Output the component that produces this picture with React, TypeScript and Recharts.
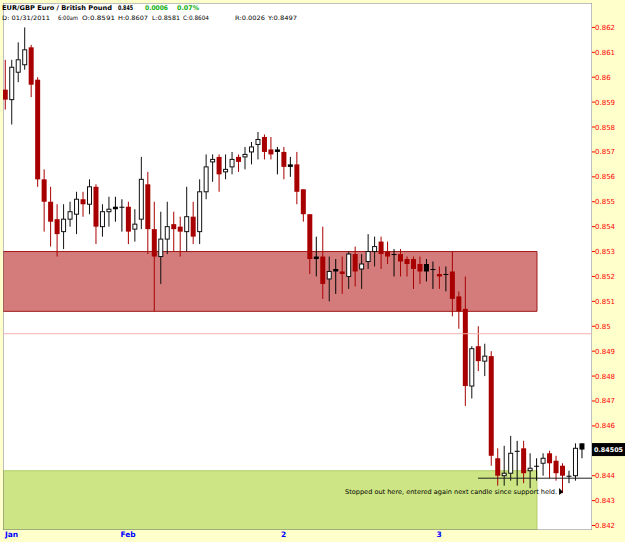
import React from 'react';
import {
  ComposedChart,
  Bar,
  XAxis,
  YAxis,
  CartesianGrid,
  ReferenceArea,
  ReferenceLine,
  ReferenceDot,
} from 'recharts';

// Hourly EUR/GBP candles, Jan 31 05:00 -> Feb 3 22:00
const opens = [
  0.8595, 0.8591, 0.8602, 0.8605, 0.8612, 0.8599, 0.8559, 0.855, 0.8543, 0.8538,
  0.8543, 0.8545, 0.8551, 0.8549, 0.8556, 0.854, 0.8546, 0.8548, 0.8548, 0.8548,
  0.8539, 0.8543, 0.8557, 0.8539, 0.8528, 0.8535, 0.8541, 0.854, 0.8538, 0.8544,
  0.8538, 0.8554, 0.8566, 0.8568, 0.8562, 0.8564, 0.8568, 0.8568, 0.857, 0.8573,
  0.8576, 0.8571, 0.8571, 0.857, 0.8565, 0.8565, 0.8555, 0.8545, 0.8528, 0.8528,
  0.8519, 0.8523, 0.8522, 0.852, 0.8529, 0.8523, 0.8526, 0.853, 0.8534, 0.853,
  0.8529, 0.8529, 0.8527, 0.8527, 0.8525, 0.8525, 0.8523, 0.8521, 0.8521, 0.8522,
  0.8512, 0.8507, 0.8476, 0.8492, 0.8486, 0.8488, 0.8447, 0.844, 0.8441, 0.845,
  0.8451, 0.8442, 0.8444, 0.8445, 0.8449, 0.8446, 0.8444, 0.844, 0.844, 0.8453,
];
const highs = [
  0.8607, 0.8607, 0.8614, 0.862, 0.8613, 0.86, 0.8563, 0.8556, 0.8549, 0.8549,
  0.855, 0.8554, 0.8554, 0.8559, 0.8557, 0.8549, 0.8552, 0.8552, 0.8551, 0.855,
  0.8547, 0.8568, 0.8562, 0.855, 0.8546, 0.855, 0.8546, 0.8544, 0.8556, 0.855,
  0.8559, 0.8569, 0.8569, 0.8569, 0.8569, 0.857, 0.8569, 0.8572, 0.8574, 0.8578,
  0.8577, 0.8576, 0.8572, 0.8572, 0.8568, 0.857, 0.8555, 0.8545, 0.8536, 0.854,
  0.8528, 0.8527, 0.8528, 0.853, 0.8532, 0.8529, 0.8537, 0.8536, 0.8536, 0.8534,
  0.8531, 0.8531, 0.8528, 0.8528, 0.8528, 0.8527, 0.8526, 0.8524, 0.8524, 0.853,
  0.8514, 0.852, 0.8492, 0.85, 0.8493, 0.849, 0.8451, 0.8452, 0.8456, 0.8454,
  0.8454, 0.8449, 0.8447, 0.8449, 0.845, 0.8448, 0.8445, 0.8442, 0.8453, 0.8453,
];
const lows = [
  0.8587, 0.8581, 0.8598, 0.8603, 0.8592, 0.8556, 0.8538, 0.8532, 0.8528, 0.8531,
  0.854, 0.8537, 0.8544, 0.8545, 0.8533, 0.8536, 0.854, 0.8542, 0.8538, 0.8533,
  0.8534, 0.8539, 0.8529, 0.8506, 0.8517, 0.8529, 0.853, 0.8528, 0.853, 0.8533,
  0.8533, 0.8551, 0.8558, 0.8554, 0.8559, 0.8561, 0.8562, 0.8563, 0.8565, 0.8567,
  0.8567, 0.8567, 0.8561, 0.8559, 0.856, 0.8549, 0.8542, 0.8521, 0.852, 0.8511,
  0.851, 0.8513, 0.8513, 0.8515, 0.8516, 0.8515, 0.8523, 0.8524, 0.8523, 0.8525,
  0.852, 0.852, 0.852, 0.8515, 0.8517, 0.8518, 0.8515, 0.8515, 0.8514, 0.8504,
  0.8499, 0.8468, 0.8471, 0.8482, 0.848, 0.8444, 0.8436, 0.8436, 0.8438, 0.8436,
  0.8437, 0.8435, 0.8438, 0.844, 0.8439, 0.8438, 0.8433, 0.8437, 0.8438, 0.8447,
];
const closes = [
  0.8591, 0.8604, 0.8607, 0.8611, 0.8597, 0.8559, 0.855, 0.8542, 0.8537, 0.8543,
  0.8546, 0.8551, 0.8549, 0.8556, 0.854, 0.8546, 0.8547, 0.8547, 0.8548, 0.8538,
  0.8541, 0.8559, 0.8539, 0.8528, 0.8535, 0.854, 0.8539, 0.8538, 0.8544, 0.8536,
  0.8554, 0.8564, 0.8567, 0.8561, 0.8563, 0.8567, 0.8566, 0.8569, 0.8572, 0.8575,
  0.857, 0.8569, 0.857, 0.8564, 0.8564, 0.8554, 0.8545, 0.8527, 0.8527, 0.8517,
  0.8522, 0.8522, 0.8521, 0.8529, 0.8522, 0.8525, 0.853, 0.8532, 0.8529, 0.8528,
  0.8529, 0.8526, 0.8525, 0.8523, 0.8522, 0.8522, 0.8523, 0.852, 0.8521, 0.8511,
  0.8506, 0.8476, 0.8491, 0.8486, 0.8488, 0.8448, 0.844, 0.8441, 0.8449, 0.845,
  0.8441, 0.8443, 0.8444, 0.8447, 0.8445, 0.8441, 0.844, 0.844, 0.8451, 0.84505,
];
// candles drawn in black in the source chart
const blackCandles = [17, 18, 42, 44, 48, 51, 60, 65, 66, 68, 79, 82, 87, 89];

const dayTickIndex = [0, 19, 43, 67];
const dayTickLabels = ['Jan', 'Feb', '2', '3'];
const priceTicks = [
  0.842, 0.843, 0.844, 0.845, 0.846, 0.847, 0.848, 0.849, 0.85, 0.851, 0.852,
  0.853, 0.854, 0.855, 0.856, 0.857, 0.858, 0.859, 0.86, 0.861, 0.862,
];

const supplyZone = [0.8506, 0.853];
const demandZoneTop = 0.8442;
const zoneEndIndex = 82.1;
const supportStartIndex = 73;
const supportLevel = 0.8439;
const cursorPrice = 0.8497;
const annotationPoint = [85.2, 0.84335];
const annotationText = 'Stopped out here, entered again next candle since support held.';

// header readouts
const symbolTitle = 'EUR/GBP Euro / British Pound';
const changeAbs = '0.0006';
const changePct = '0.07%';
const cursorDate = 'D: 01/31/2011';
const cursorTime = '6:00am';
const cursorCandle = 1;
const cursorRange = '0.0026';

const xDomain = [-0.309, 90.59];
const yDomain = [0.84182, 0.86298];

const lastClose = closes[closes.length - 1];
const shownTicks = priceTicks.filter((t) => Math.abs(t - lastClose) > 0.0003);

const data = opens.map((o, i) => ({
  i,
  open: o,
  high: highs[i],
  low: lows[i],
  close: closes[i],
  range: [lows[i], highs[i]],
  black: blackCandles.includes(i),
}));

const RED = '#A80000';
const FONT = 'DejaVu Sans';

const Candle = (props: any) => {
  const { x, y, width, height, payload } = props;
  if (!payload) return null;
  const top = Math.min(y, y + height);
  const bot = Math.max(y, y + height);
  const { open, close, high, low, black } = payload;
  const span = high - low;
  const k = span > 0 ? (bot - top) / span : 0;
  const yv = (v: number) => top + (high - v) * k;
  const cx = x + width / 2;
  const up = close > open;
  const bodyTop = yv(Math.max(open, close));
  const bodyBot = yv(Math.min(open, close));
  const bh = Math.max(bodyBot - bodyTop, 1);
  if (black) {
    return (
      <g>
        <line x1={cx} x2={cx} y1={top} y2={bot} stroke="#000" strokeWidth={1} />
        <rect x={cx - 2.5} y={bodyTop} width={5} height={bh} fill="#000" />
      </g>
    );
  }
  if (up) {
    return (
      <g>
        <line x1={cx} x2={cx} y1={top} y2={bot} stroke="#111" strokeWidth={1} />
        <rect x={cx - 2} y={bodyTop} width={4} height={bh} fill="#fff" stroke="#111" strokeWidth={1} />
      </g>
    );
  }
  return (
    <g>
      <line x1={cx} x2={cx} y1={top} y2={bot} stroke={RED} strokeWidth={1} />
      <rect x={cx - 2.5} y={bodyTop} width={5} height={bh} fill={RED} />
    </g>
  );
};

const DayTick = (props: any) => {
  const { x, y, payload } = props;
  const idx = dayTickIndex.indexOf(payload.value);
  const label = idx >= 0 ? dayTickLabels[idx] : '';
  return (
    <text
      x={x}
      y={y}
      dy="0.71em"
      textAnchor={payload.value === dayTickIndex[0] ? 'start' : 'middle'}
      fill="#0000FF"
      fontSize={7.5}
      fontWeight="bold"
      fontFamily={FONT}
    >
      {label}
    </text>
  );
};

const PriceTag = (props: any) => {
  const vb = props.viewBox || {};
  const xr = (vb.x || 0) + (vb.width || 0);
  const yy = vb.y || 0;
  return (
    <g>
      <rect x={xr} y={yy - 6.5} width={33} height={13} fill="#000" />
      <text x={xr + 2} y={yy} dy="0.35em" fill="#fff" fontSize={6.5} fontWeight="bold" fontFamily={FONT} textLength={29} lengthAdjust="spacingAndGlyphs">
        {String(lastClose)}
      </text>
    </g>
  );
};

const Annotation = (props: any) => {
  const vb = props.viewBox || {};
  const x = vb.x || 0;
  const y = vb.y || 0;
  return (
    <g>
      <text
        x={x}
        y={y}
        dy="0.35em"
        textAnchor="end"
        fontSize={6.5}
        fontFamily={FONT}
        fill="#000"
        textLength={212}
        lengthAdjust="spacingAndGlyphs"
      >
        {annotationText}
      </text>
      <path d={`M ${x + 2} ${y - 4} L ${x + 2} ${y + 3} L ${x + 6} ${y} Z`} fill="#000" />
    </g>
  );
};

type HeaderItem = { t: string; x: number; w: number; color?: string; bold?: boolean; line: number };

export default function App() {
  const c = cursorCandle;
  const header: HeaderItem[] = [
    { t: symbolTitle, x: 2, w: 110, bold: true, line: 0 },
    { t: String(Number(lastClose.toFixed(3))), x: 118, w: 15, bold: true, line: 0 },
    { t: changeAbs, x: 145, w: 23, bold: true, color: '#10B010', line: 0 },
    { t: changePct, x: 177, w: 22, bold: true, color: '#10B010', line: 0 },
    { t: cursorDate, x: 2, w: 48, line: 1 },
    { t: cursorTime, x: 58, w: 20, line: 1 },
    { t: `O:${opens[c]}`, x: 82, w: 33, line: 1 },
    { t: `H:${highs[c]}`, x: 118, w: 30, line: 1 },
    { t: `L:${lows[c]}`, x: 152, w: 28, line: 1 },
    { t: `C:${closes[c]}`, x: 183, w: 26, line: 1 },
    { t: `R:${cursorRange}`, x: 235, w: 30, line: 1 },
    { t: `Y:${cursorPrice}`, x: 268, w: 29, line: 1 },
  ];
  return (
    <div style={{ position: 'absolute', left: 0, top: 0, width: 625, height: 542, background: '#FFFFCC', overflow: 'hidden' }}>
      <ComposedChart
        width={625}
        height={542}
        data={data}
        margin={{ top: 3, right: 0, bottom: 0, left: 3 }}
      >
        <CartesianGrid fill="#FFFFFF" horizontal={false} vertical={false} />
        <XAxis
          dataKey="i"
          type="number"
          domain={xDomain}
          allowDataOverflow
          ticks={dayTickIndex}
          interval={0}
          height={12}
          axisLine={false}
          tickLine={false}
          tickSize={0}
          tickMargin={2}
          tick={<DayTick />}
        />
        <YAxis
          orientation="right"
          type="number"
          domain={yDomain}
          allowDataOverflow
          ticks={shownTicks}
          interval={0}
          width={33}
          axisLine={false}
          tickLine={{ stroke: '#FF0000' }}
          tickSize={3}
          tickMargin={0}
          tickFormatter={(v: number) => String(Number(v.toFixed(3)))}
          tick={{ fill: '#FF0000', fontSize: 7, fontFamily: FONT }}
        />
        <ReferenceArea
          x1={xDomain[0]}
          x2={zoneEndIndex}
          y1={yDomain[0]}
          y2={demandZoneTop}
          fill="#CDE584"
          fillOpacity={1}
          stroke="#B3CF6A"
          ifOverflow="hidden"
        />
        <ReferenceArea
          x1={xDomain[0]}
          x2={zoneEndIndex}
          y1={supplyZone[0]}
          y2={supplyZone[1]}
          fill="#D47C7C"
          fillOpacity={1}
          stroke="#A01818"
          ifOverflow="hidden"
        />
        <ReferenceLine y={cursorPrice} stroke="#F5B0B0" strokeWidth={1} />
        <Bar dataKey="range" barSize={5} shape={<Candle />} isAnimationActive={false} />
        <ReferenceLine
          segment={[
            { x: supportStartIndex, y: supportLevel },
            { x: xDomain[1], y: supportLevel },
          ]}
          stroke="#222"
          strokeWidth={1}
          ifOverflow="hidden"
        />
        <ReferenceLine y={lastClose} stroke="none" label={<PriceTag />} />
        <ReferenceDot
          x={annotationPoint[0]}
          y={annotationPoint[1]}
          r={0}
          fill="none"
          stroke="none"
          label={<Annotation />}
        />
        <ReferenceArea
          x1={xDomain[0]}
          x2={xDomain[1]}
          y1={yDomain[0]}
          y2={yDomain[1]}
          fill="none"
          stroke="#808080"
          ifOverflow="hidden"
        />
      </ComposedChart>
      <svg width={625} height={24} style={{ position: 'absolute', left: 0, top: 0 }}>
        {header.map((h, k) => (
          <text
            key={k}
            x={h.x}
            y={h.line === 0 ? 9.5 : 20}
            fontSize={h.line === 0 ? 6.5 : 6}
            fontWeight={h.bold ? 'bold' : 'normal'}
            fontFamily={FONT}
            fill={h.color || '#000'}
            textLength={h.w}
            lengthAdjust="spacingAndGlyphs"
          >
            {h.t}
          </text>
        ))}
      </svg>
    </div>
  );
}
